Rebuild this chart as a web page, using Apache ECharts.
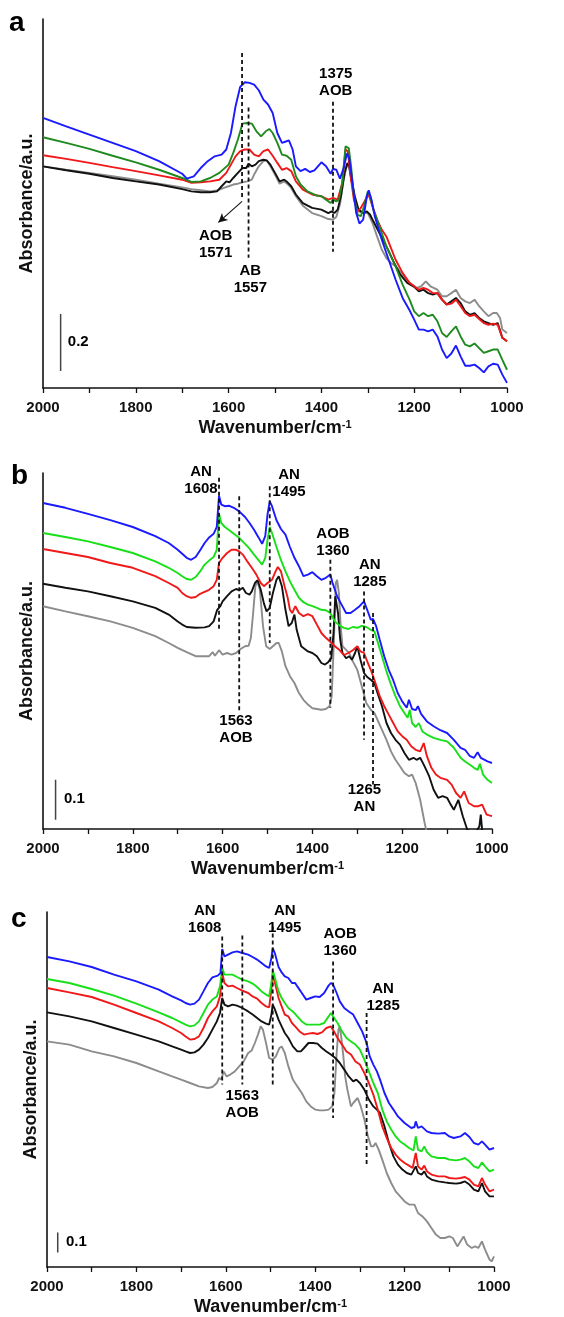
<!DOCTYPE html>
<html>
<head>
<meta charset="utf-8">
<script src="https://cdn.jsdelivr.net/npm/echarts@6/dist/echarts.min.js"></script>
<style>
  html, body { margin: 0; padding: 0; background: #fff; }
  #chart { width: 564px; height: 1317px; }
</style>
</head>
<body>
<div id="chart"></div>
<script>
// ---- FTIR spectra, [wavenumber cm-1, absorbance] ----
// Panel a
const aBlue = [[2000,.948],[1950,.918],[1900,.889],[1850,.860],[1800,.831],[1750,.796],[1700,.752],[1690,.735],[1675,.743],[1660,.772],[1645,.796],[1630,.813],[1615,.819],[1605,.837],[1595,.895],[1585,.989],[1575,1.057],[1565,1.073],[1555,1.071],[1545,1.065],[1535,1.045],[1525,1.012],[1515,.995],[1505,.965],[1495,.895],[1485,.860],[1475,.866],[1470,.869],[1462,.837],[1455,.778],[1445,.761],[1435,.769],[1425,.758],[1415,.764],[1400,.792],[1390,.778],[1380,.752],[1375,.769],[1368,.766],[1360,.735],[1352,.772],[1345,.823],[1340,.807],[1333,.720],[1325,.614],[1318,.577],[1310,.591],[1302,.673],[1298,.694],[1292,.661],[1285,.603],[1270,.521],[1255,.450],[1240,.380],[1225,.316],[1210,.273],[1200,.240],[1190,.205],[1180,.205],[1170,.199],[1160,.205],[1150,.181],[1140,.135],[1130,.105],[1120,.121],[1110,.149],[1100,.111],[1090,.078],[1080,.078],[1070,.082],[1060,.070],[1050,.055],[1040,.076],[1030,.085],[1020,.082],[1010,.047],[1000,.018]];
const aGreen = [[2000,.880],[1950,.860],[1900,.839],[1850,.815],[1800,.792],[1750,.766],[1700,.737],[1680,.723],[1660,.725],[1640,.737],[1620,.755],[1600,.784],[1590,.825],[1580,.872],[1570,.928],[1560,.930],[1550,.928],[1540,.901],[1530,.883],[1520,.901],[1512,.909],[1505,.895],[1495,.860],[1485,.819],[1475,.815],[1465,.801],[1455,.743],[1445,.714],[1430,.690],[1410,.675],[1400,.673],[1390,.661],[1380,.649],[1375,.661],[1368,.655],[1362,.661],[1355,.720],[1348,.848],[1345,.854],[1341,.842],[1336,.778],[1330,.673],[1322,.608],[1315,.603],[1308,.638],[1300,.690],[1295,.673],[1288,.626],[1280,.591],[1270,.544],[1260,.497],[1250,.462],[1240,.427],[1225,.363],[1210,.310],[1200,.269],[1190,.252],[1180,.263],[1170,.252],[1160,.257],[1150,.234],[1140,.193],[1130,.179],[1120,.199],[1110,.216],[1100,.181],[1090,.152],[1080,.146],[1070,.156],[1060,.140],[1050,.123],[1040,.129],[1030,.135],[1020,.135],[1010,.099],[1000,.064]];
const aRed = [[2000,.817],[1950,.804],[1900,.790],[1850,.775],[1800,.761],[1750,.746],[1700,.731],[1680,.720],[1660,.722],[1640,.725],[1620,.731],[1605,.755],[1595,.784],[1585,.813],[1575,.831],[1565,.837],[1555,.837],[1545,.819],[1535,.813],[1525,.831],[1515,.837],[1505,.815],[1495,.790],[1485,.766],[1475,.772],[1465,.761],[1455,.725],[1440,.696],[1420,.679],[1400,.673],[1385,.661],[1375,.667],[1365,.661],[1355,.720],[1348,.837],[1343,.831],[1338,.755],[1330,.661],[1322,.620],[1315,.632],[1305,.661],[1298,.679],[1290,.638],[1280,.591],[1270,.556],[1260,.532],[1250,.491],[1240,.450],[1225,.404],[1210,.369],[1200,.357],[1190,.345],[1180,.351],[1170,.345],[1160,.333],[1150,.333],[1140,.310],[1130,.293],[1120,.296],[1110,.310],[1100,.287],[1090,.263],[1080,.252],[1070,.257],[1060,.242],[1050,.228],[1040,.222],[1030,.226],[1020,.222],[1010,.176],[1000,.164]];
const aBlack = [[2000,.778],[1950,.764],[1900,.752],[1850,.737],[1800,.725],[1750,.714],[1700,.698],[1680,.690],[1660,.687],[1640,.687],[1625,.690],[1615,.708],[1605,.725],[1598,.722],[1590,.737],[1580,.755],[1570,.772],[1562,.772],[1557,.787],[1550,.778],[1542,.784],[1535,.796],[1525,.801],[1518,.799],[1510,.784],[1500,.755],[1490,.725],[1480,.731],[1475,.725],[1465,.708],[1455,.679],[1440,.649],[1420,.632],[1400,.626],[1385,.614],[1378,.620],[1372,.614],[1365,.626],[1358,.673],[1350,.755],[1344,.790],[1340,.778],[1335,.731],[1328,.673],[1320,.626],[1310,.614],[1302,.620],[1295,.608],[1288,.585],[1275,.544],[1260,.497],[1245,.445],[1230,.398],[1215,.369],[1200,.355],[1190,.339],[1180,.345],[1170,.333],[1160,.328],[1150,.333],[1140,.310],[1130,.293],[1120,.304],[1110,.316],[1100,.298],[1090,.269],[1080,.257],[1070,.263],[1060,.246],[1050,.234],[1040,.228],[1030,.222],[1020,.228],[1010,.176],[1000,.164]];
const aGray = [[2000,.778],[1950,.766],[1900,.755],[1850,.743],[1800,.731],[1750,.717],[1700,.704],[1680,.698],[1660,.694],[1640,.690],[1625,.693],[1610,.702],[1600,.708],[1590,.714],[1580,.717],[1570,.722],[1560,.725],[1550,.731],[1545,.749],[1535,.778],[1525,.796],[1518,.799],[1510,.778],[1500,.749],[1490,.717],[1480,.725],[1472,.714],[1465,.702],[1455,.673],[1440,.640],[1420,.614],[1400,.603],[1385,.593],[1375,.591],[1368,.600],[1360,.644],[1352,.731],[1345,.784],[1340,.772],[1335,.725],[1328,.661],[1320,.620],[1310,.614],[1300,.614],[1290,.579],[1280,.532],[1270,.486],[1260,.456],[1250,.439],[1240,.427],[1225,.398],[1210,.369],[1195,.351],[1185,.357],[1175,.374],[1165,.357],[1150,.345],[1140,.322],[1130,.322],[1120,.333],[1110,.345],[1100,.316],[1090,.304],[1080,.298],[1070,.310],[1060,.287],[1050,.269],[1040,.252],[1030,.263],[1022,.263],[1015,.246],[1010,.205],[1000,.193]];

// Panel b
const bBlue = [[2000,.815],[1950,.803],[1900,.788],[1850,.772],[1800,.755],[1750,.732],[1720,.715],[1700,.698],[1690,.688],[1680,.678],[1670,.673],[1660,.680],[1650,.697],[1640,.715],[1630,.729],[1620,.738],[1613,.755],[1608,.833],[1603,.811],[1595,.807],[1585,.808],[1575,.803],[1563,.794],[1550,.780],[1540,.765],[1530,.748],[1520,.729],[1512,.713],[1505,.732],[1500,.786],[1495,.819],[1490,.807],[1480,.772],[1470,.750],[1460,.736],[1450,.705],[1440,.678],[1430,.657],[1420,.632],[1410,.636],[1400,.642],[1390,.632],[1380,.623],[1370,.628],[1360,.636],[1355,.615],[1345,.582],[1335,.561],[1325,.540],[1315,.540],[1305,.548],[1295,.557],[1285,.569],[1278,.548],[1270,.523],[1265,.525],[1258,.507],[1250,.473],[1240,.432],[1230,.398],[1220,.372],[1210,.340],[1200,.319],[1190,.303],[1185,.323],[1178,.300],[1170,.297],[1165,.307],[1158,.288],[1145,.269],[1130,.257],[1115,.247],[1100,.240],[1085,.223],[1070,.203],[1060,.198],[1050,.183],[1040,.178],[1032,.192],[1025,.178],[1010,.169],[1000,.165]];
const bGreen = [[2000,.740],[1950,.730],[1900,.719],[1850,.705],[1800,.690],[1750,.669],[1720,.653],[1700,.640],[1690,.632],[1680,.625],[1670,.623],[1660,.630],[1650,.644],[1640,.661],[1630,.671],[1620,.680],[1613,.698],[1608,.788],[1603,.765],[1595,.755],[1585,.747],[1575,.738],[1563,.728],[1550,.713],[1540,.701],[1530,.686],[1520,.672],[1512,.661],[1505,.678],[1500,.723],[1495,.755],[1490,.740],[1480,.705],[1470,.672],[1460,.644],[1450,.619],[1440,.598],[1430,.578],[1420,.567],[1410,.561],[1400,.557],[1390,.553],[1380,.548],[1370,.547],[1360,.540],[1350,.519],[1340,.509],[1330,.503],[1320,.500],[1310,.505],[1300,.503],[1290,.508],[1280,.505],[1270,.498],[1262,.494],[1255,.469],[1245,.432],[1235,.394],[1225,.361],[1215,.332],[1205,.307],[1195,.290],[1188,.278],[1183,.298],[1178,.265],[1170,.255],[1163,.265],[1155,.244],[1145,.236],[1130,.228],[1115,.223],[1100,.219],[1085,.203],[1070,.178],[1060,.169],[1050,.161],[1040,.153],[1032,.148],[1027,.163],[1020,.136],[1010,.123],[1000,.115]];
const bRed = [[2000,.700],[1950,.690],[1900,.680],[1850,.665],[1800,.653],[1750,.632],[1720,.615],[1700,.603],[1690,.590],[1680,.582],[1670,.578],[1660,.580],[1650,.588],[1640,.593],[1630,.598],[1620,.607],[1613,.623],[1608,.665],[1600,.678],[1590,.690],[1580,.698],[1570,.698],[1563,.694],[1555,.686],[1545,.669],[1535,.653],[1525,.636],[1515,.615],[1508,.607],[1500,.615],[1495,.619],[1490,.623],[1482,.644],[1477,.655],[1470,.644],[1462,.607],[1455,.578],[1450,.548],[1445,.540],[1438,.557],[1430,.540],[1420,.532],[1410,.537],[1400,.532],[1390,.511],[1380,.490],[1370,.478],[1360,.468],[1350,.457],[1340,.448],[1330,.435],[1320,.440],[1310,.447],[1300,.457],[1293,.444],[1285,.440],[1278,.419],[1270,.398],[1262,.373],[1250,.332],[1240,.307],[1230,.286],[1220,.265],[1210,.244],[1200,.232],[1190,.223],[1180,.207],[1170,.198],[1160,.194],[1152,.215],[1145,.182],[1135,.153],[1125,.136],[1115,.128],[1100,.123],[1090,.111],[1080,.090],[1070,.078],[1062,.094],[1052,.065],[1040,.057],[1030,.057],[1022,.061],[1012,.036],[1000,.032]];
const bBlack = [[2000,.613],[1950,.603],[1900,.594],[1850,.582],[1800,.569],[1750,.553],[1720,.536],[1700,.519],[1690,.511],[1680,.505],[1660,.503],[1640,.504],[1630,.507],[1620,.519],[1612,.548],[1605,.557],[1600,.569],[1590,.582],[1580,.594],[1570,.600],[1563,.597],[1555,.603],[1548,.590],[1540,.586],[1535,.594],[1528,.615],[1522,.622],[1515,.598],[1508,.564],[1502,.544],[1495,.553],[1488,.590],[1480,.623],[1475,.632],[1468,.607],[1460,.548],[1453,.507],[1446,.515],[1440,.536],[1435,.498],[1425,.457],[1410,.444],[1400,.440],[1390,.432],[1380,.415],[1372,.411],[1365,.417],[1358,.427],[1353,.490],[1349,.582],[1343,.540],[1338,.473],[1333,.440],[1325,.427],[1318,.432],[1312,.423],[1305,.440],[1300,.457],[1293,.423],[1285,.390],[1278,.380],[1270,.373],[1262,.365],[1255,.340],[1245,.307],[1235,.265],[1225,.240],[1215,.223],[1205,.211],[1195,.190],[1185,.173],[1175,.178],[1168,.173],[1160,.178],[1152,.161],[1140,.132],[1130,.098],[1120,.078],[1110,.082],[1100,.078],[1092,.061],[1085,.048],[1075,.073],[1065,.032],[1055,-.002],[1045,-.006],[1035,-.006],[1028,.007],[1025,.036],[1022,-.002],[1010,-.027],[1000,-.035]];
const bGray = [[2000,.557],[1950,.544],[1900,.532],[1850,.519],[1800,.503],[1750,.482],[1720,.465],[1700,.453],[1680,.442],[1660,.432],[1640,.432],[1630,.432],[1622,.442],[1617,.433],[1608,.447],[1600,.436],[1590,.440],[1580,.436],[1570,.440],[1560,.450],[1550,.457],[1542,.458],[1537,.478],[1532,.540],[1527,.607],[1522,.619],[1517,.598],[1510,.507],[1503,.457],[1495,.450],[1488,.457],[1480,.465],[1475,.465],[1468,.444],[1460,.407],[1450,.382],[1440,.365],[1430,.340],[1420,.323],[1410,.311],[1400,.302],[1390,.300],[1380,.298],[1370,.300],[1362,.307],[1357,.332],[1352,.473],[1348,.615],[1345,.623],[1341,.590],[1337,.507],[1333,.457],[1325,.448],[1318,.440],[1310,.419],[1300,.398],[1290,.357],[1280,.315],[1270,.298],[1262,.290],[1255,.273],[1245,.248],[1235,.223],[1225,.194],[1215,.173],[1205,.157],[1195,.140],[1185,.132],[1178,.136],[1170,.115],[1160,.073],[1150,.015],[1145,-.010],[1135,-.035]];

// Panel c
const cBlue = [[2000,1.550],[1950,1.528],[1900,1.500],[1850,1.462],[1800,1.428],[1750,1.387],[1720,1.353],[1700,1.333],[1690,1.320],[1680,1.312],[1670,1.317],[1660,1.337],[1650,1.378],[1640,1.420],[1630,1.448],[1618,1.457],[1612,1.470],[1608,1.590],[1603,1.553],[1595,1.562],[1585,1.573],[1575,1.578],[1563,1.570],[1550,1.562],[1540,1.550],[1530,1.537],[1520,1.520],[1510,1.503],[1503,1.495],[1498,1.545],[1495,1.595],[1490,1.567],[1482,1.500],[1475,1.473],[1468,1.453],[1460,1.445],[1452,1.420],[1445,1.420],[1440,1.403],[1430,1.370],[1420,1.337],[1410,1.345],[1400,1.353],[1390,1.350],[1380,1.370],[1370,1.407],[1365,1.420],[1360,1.412],[1352,1.370],[1345,1.328],[1335,1.295],[1325,1.278],[1315,1.262],[1305,1.220],[1295,1.178],[1285,1.120],[1278,1.053],[1270,1.012],[1262,.978],[1255,.937],[1245,.870],[1235,.820],[1225,.787],[1215,.753],[1200,.720],[1185,.695],[1178,.700],[1175,.728],[1170,.695],[1162,.703],[1158,.700],[1150,.678],[1140,.670],[1125,.667],[1110,.670],[1100,.653],[1090,.645],[1075,.653],[1065,.670],[1055,.650],[1045,.620],[1035,.612],[1027,.628],[1020,.612],[1010,.587],[1000,.595]];
const cGreen = [[2000,1.440],[1950,1.420],[1900,1.390],[1850,1.357],[1800,1.317],[1750,1.273],[1720,1.245],[1700,1.223],[1690,1.212],[1680,1.203],[1670,1.208],[1660,1.228],[1650,1.270],[1640,1.312],[1630,1.337],[1620,1.353],[1613,1.403],[1608,1.495],[1603,1.462],[1595,1.462],[1585,1.462],[1575,1.450],[1563,1.437],[1550,1.428],[1540,1.417],[1530,1.400],[1520,1.378],[1510,1.362],[1503,1.353],[1498,1.420],[1495,1.482],[1490,1.445],[1482,1.378],[1475,1.345],[1468,1.320],[1460,1.295],[1450,1.278],[1440,1.253],[1430,1.228],[1420,1.212],[1410,1.212],[1400,1.212],[1390,1.212],[1380,1.220],[1370,1.253],[1365,1.270],[1360,1.253],[1350,1.220],[1340,1.178],[1330,1.145],[1320,1.128],[1310,1.112],[1300,1.087],[1290,1.037],[1280,.978],[1270,.920],[1260,.870],[1250,.787],[1240,.728],[1230,.687],[1220,.653],[1210,.628],[1200,.612],[1190,.595],[1180,.583],[1175,.653],[1170,.587],[1162,.578],[1156,.603],[1150,.575],[1140,.553],[1125,.545],[1110,.545],[1100,.537],[1085,.533],[1075,.537],[1065,.545],[1055,.528],[1045,.503],[1035,.495],[1027,.523],[1020,.503],[1010,.478],[1000,.487]];
const cRed = [[2000,1.395],[1950,1.373],[1900,1.350],[1850,1.312],[1800,1.270],[1750,1.228],[1720,1.195],[1700,1.170],[1690,1.153],[1680,1.137],[1670,1.140],[1660,1.153],[1650,1.195],[1640,1.245],[1630,1.278],[1620,1.303],[1613,1.353],[1608,1.470],[1603,1.420],[1595,1.403],[1585,1.407],[1575,1.395],[1563,1.382],[1550,1.370],[1540,1.353],[1530,1.342],[1520,1.320],[1510,1.303],[1503,1.298],[1498,1.387],[1495,1.462],[1490,1.420],[1482,1.345],[1475,1.303],[1468,1.262],[1460,1.253],[1452,1.220],[1445,1.203],[1435,1.178],[1425,1.162],[1415,1.167],[1405,1.170],[1395,1.165],[1385,1.173],[1375,1.195],[1365,1.203],[1358,1.178],[1350,1.145],[1340,1.112],[1330,1.078],[1320,1.062],[1310,1.028],[1300,1.012],[1290,.970],[1280,.920],[1270,.862],[1260,.787],[1250,.703],[1240,.645],[1230,.595],[1220,.562],[1210,.537],[1200,.520],[1190,.507],[1182,.495],[1175,.570],[1170,.503],[1162,.487],[1156,.507],[1150,.478],[1140,.462],[1125,.453],[1110,.453],[1100,.445],[1085,.442],[1075,.445],[1065,.450],[1055,.437],[1045,.412],[1035,.403],[1027,.445],[1020,.412],[1010,.378],[1000,.387]];
const cBlack = [[2000,1.273],[1950,1.253],[1900,1.228],[1850,1.195],[1800,1.162],[1750,1.128],[1720,1.103],[1700,1.087],[1690,1.078],[1680,1.070],[1670,1.073],[1660,1.087],[1650,1.112],[1640,1.145],[1630,1.187],[1620,1.228],[1613,1.270],[1608,1.345],[1603,1.312],[1595,1.303],[1585,1.312],[1575,1.307],[1563,1.295],[1550,1.278],[1540,1.262],[1530,1.245],[1520,1.228],[1510,1.217],[1503,1.212],[1498,1.262],[1495,1.312],[1490,1.287],[1482,1.237],[1475,1.203],[1468,1.170],[1460,1.145],[1450,1.103],[1440,1.078],[1432,1.078],[1425,1.095],[1415,1.120],[1405,1.120],[1395,1.117],[1385,1.095],[1375,1.078],[1365,1.062],[1355,1.045],[1345,1.020],[1335,.987],[1325,.953],[1315,.928],[1308,.937],[1300,.920],[1290,.887],[1280,.837],[1270,.803],[1262,.787],[1255,.770],[1245,.703],[1235,.620],[1225,.553],[1215,.512],[1205,.487],[1195,.470],[1185,.462],[1175,.503],[1170,.470],[1162,.462],[1156,.478],[1150,.453],[1140,.437],[1125,.428],[1110,.423],[1100,.420],[1085,.417],[1075,.420],[1065,.428],[1055,.412],[1045,.387],[1035,.378],[1027,.420],[1020,.378],[1010,.353],[1000,.353]];
const cGray = [[2000,1.128],[1950,1.112],[1900,1.078],[1850,1.053],[1800,1.020],[1750,.978],[1720,.953],[1700,.937],[1680,.920],[1660,.903],[1640,.895],[1630,.900],[1620,.920],[1615,.945],[1610,.937],[1605,.978],[1598,.953],[1590,.962],[1580,.978],[1570,1.003],[1560,1.028],[1550,1.070],[1542,1.083],[1535,1.120],[1528,1.162],[1522,1.203],[1517,1.187],[1510,1.120],[1503,1.045],[1495,1.037],[1488,1.053],[1480,1.095],[1475,1.103],[1468,1.070],[1460,1.003],[1450,.937],[1440,.903],[1430,.870],[1420,.828],[1410,.803],[1400,.787],[1390,.783],[1380,.783],[1370,.787],[1362,.803],[1357,.870],[1352,1.070],[1348,1.187],[1345,1.203],[1341,1.137],[1337,1.053],[1333,.953],[1328,.887],[1320,.803],[1315,.820],[1305,.845],[1298,.803],[1290,.737],[1282,.653],[1275,.603],[1270,.603],[1265,.620],[1258,.587],[1250,.537],[1240,.470],[1230,.420],[1220,.378],[1210,.353],[1200,.328],[1190,.312],[1178,.312],[1170,.270],[1160,.253],[1150,.228],[1140,.195],[1130,.162],[1120,.145],[1110,.145],[1100,.153],[1092,.145],[1082,.103],[1075,.128],[1068,.153],[1060,.112],[1050,.095],[1042,.103],[1035,.095],[1027,.128],[1020,.087],[1010,.037],[1005,.028],[1000,.053]];

// ---- band assignments: [wavenumber, top, bottom] of each dashed marker ----
const aBands = [[1571,1.176,0.661],[1557,0.984,0.457],[1375,1.005,0.478]];
const bBands = [[1608,0.878,0.498],[1563,0.832,0.290],[1495,0.857,0.465],[1360,0.673,0.303],[1285,0.594,0.223],[1265,0.540,0.111]];
const cBands = [[1608,1.653,0.912],[1563,1.657,0.912],[1495,1.703,0.912],[1360,1.528,0.745],[1285,1.270,0.512]];

// ---- band labels: [text, wavenumber, absorbance] ----
const aLabels = [['1375\nAOB',1368,1.071],['AOB\n1571',1627,0.503],['AB\n1557',1552,0.380]];
const bLabels = [['AN\n1608',1647,0.870],['AN\n1495',1451,0.862],['AOB\n1360',1353,0.715],['AN\n1285',1271,0.638],['1563\nAOB',1569,0.247],['1265\nAN',1283,0.075]];
const cLabels = [['AN\n1608',1646,1.735],['AN\n1495',1467,1.735],['AOB\n1360',1343,1.620],['AN\n1285',1247,1.345],['1563\nAOB',1562,0.812]];

// ---- absorbance scale bars: [wavenumber, base, size] ----
const aScale = [1962, 0.060, 0.2];
const bScale = [1972, 0.023, 0.1];
const cScale = [1976, 0.072, 0.1];

const FONT = '"Liberation Sans", Arial, Helvetica, sans-serif';
const INK = '#111';
const C = { gray: '#8c8c8c', black: '#111111', red: '#f01818', darkGreen: '#1f8a1f', green: '#18e018', blue: '#1a1aff' };

const panels = [
  { letter: 'a', letterXY: [9, 23], grid: { left: 43, top: 19, width: 464, height: 369 }, yMax: 1.295,
    curves: [[aGray, C.gray], [aBlack, C.black], [aRed, C.red], [aGreen, C.darkGreen], [aBlue, C.blue]],
    bands: aBands, labels: aLabels, scale: aScale,
    arrow: [[1571, 0.655], [1622, 0.581]] },
  { letter: 'b', letterXY: [11, 476], grid: { left: 43, top: 473, width: 449, height: 356 }, yMax: 0.89,
    curves: [[bGray, C.gray], [bBlack, C.black], [bRed, C.red], [bGreen, C.green], [bBlue, C.blue]],
    bands: bBands, labels: bLabels, scale: bScale },
  { letter: 'c', letterXY: [11, 919], grid: { left: 47, top: 912, width: 447, height: 355 }, yMax: 1.775,
    curves: [[cGray, C.gray], [cBlack, C.black], [cRed, C.red], [cGreen, C.green], [cBlue, C.blue]],
    bands: cBands, labels: cLabels, scale: cScale }
];

const option = { animation: false, backgroundColor: '#fff', grid: [], xAxis: [], yAxis: [], series: [], graphic: [] };

panels.forEach((p, i) => {
  option.grid.push(Object.assign({ containLabel: false }, p.grid));

  option.xAxis.push({
    type: 'value', gridIndex: i, min: 1000, max: 2000, interval: 200, inverse: true,
    axisLine: { show: true, onZero: false, lineStyle: { color: INK, width: 1.6 } },
    axisTick: { show: true, inside: false, length: 5, lineStyle: { color: INK, width: 1.3 } },
    minorTick: { show: true, splitNumber: 2, length: 5, lineStyle: { color: INK, width: 1.3 } },
    splitLine: { show: false }, minorSplitLine: { show: false },
    axisLabel: { margin: 12, fontFamily: FONT, fontSize: 15, fontWeight: 'bold', color: INK, showMinLabel: true, showMaxLabel: true,
      formatter: v => String(v) },
    name: 'Wavenumber/cm{sup|-1}', nameLocation: 'middle', nameGap: 31,
    nameTextStyle: { fontFamily: FONT, fontSize: 18, fontWeight: 'bold', color: INK,
      rich: { sup: { fontFamily: FONT, fontSize: 11, fontWeight: 'bold', color: INK, verticalAlign: 'top', lineHeight: 12 } } }
  });

  option.yAxis.push({
    type: 'value', gridIndex: i, min: 0, max: p.yMax,
    axisLine: { show: true, lineStyle: { color: INK, width: 1.6 } },
    axisTick: { show: false }, axisLabel: { show: false }, splitLine: { show: false },
    name: 'Absorbance/a.u.', nameLocation: 'middle', nameGap: 7, nameRotate: 90,
    nameTextStyle: { fontFamily: FONT, fontSize: 18, fontWeight: 'bold', color: INK }
  });

  // spectra
  p.curves.forEach(([data, color]) => {
    option.series.push({ type: 'line', xAxisIndex: i, yAxisIndex: i, data, symbol: 'none', clip: true, silent: true,
      lineStyle: { color, width: 1.9 }, z: 2 });
  });

  // dashed band markers
  p.bands.forEach(([wn, top, bottom], k) => {
    const s = { type: 'line', xAxisIndex: i, yAxisIndex: i, data: [[wn, top], [wn, bottom]], symbol: 'none', silent: true,
      lineStyle: { color: INK, width: 1.8, type: [4, 3] }, z: 4 };
    if (p.arrow && k === 0) {
      s.markLine = { silent: true, symbol: ['none', 'arrow'], symbolSize: [7, 9], label: { show: false },
        lineStyle: { color: INK, width: 1.1, type: 'solid' },
        data: [[{ coord: p.arrow[0] }, { coord: p.arrow[1] }]] };
    }
    option.series.push(s);
  });

  // absorbance scale bar
  const [sw, base, size] = p.scale;
  option.series.push({ type: 'line', xAxisIndex: i, yAxisIndex: i, data: [[sw, base], [sw, base + size]], symbol: 'none', silent: true,
    lineStyle: { color: '#444', width: 1.5 }, z: 4 });

  // text annotations (band labels + scale value)
  const notes = p.labels.map(([t, w, v]) => ({ name: t, value: [w, v] }));
  notes.push({ name: String(size), value: [sw - (i === 0 ? 39 : 43), base + size / 2] });
  option.series.push({
    type: 'scatter', xAxisIndex: i, yAxisIndex: i, symbol: 'circle', symbolSize: 1, clip: false, silent: true,
    itemStyle: { color: 'rgba(0,0,0,0)', opacity: 1 },
    data: notes,
    label: { show: true, position: [0, 0], formatter: '{b}', fontFamily: FONT, fontSize: 15, fontWeight: 'bold',
      color: '#000', opacity: 1, textBorderWidth: 0, lineHeight: 17, align: 'center', verticalAlign: 'middle' },
    z: 6
  });

  option.graphic.push({ type: 'text', x: p.letterXY[0], y: p.letterXY[1],
    style: { text: p.letter, font: 'bold 28px ' + FONT, fill: '#000', textAlign: 'left', textVerticalAlign: 'middle', verticalAlign: 'middle' } });
});

const chart = echarts.init(document.getElementById('chart'), null, { renderer: 'canvas', width: 564, height: 1317 });
chart.setOption(option);
</script>
</body>
</html>
